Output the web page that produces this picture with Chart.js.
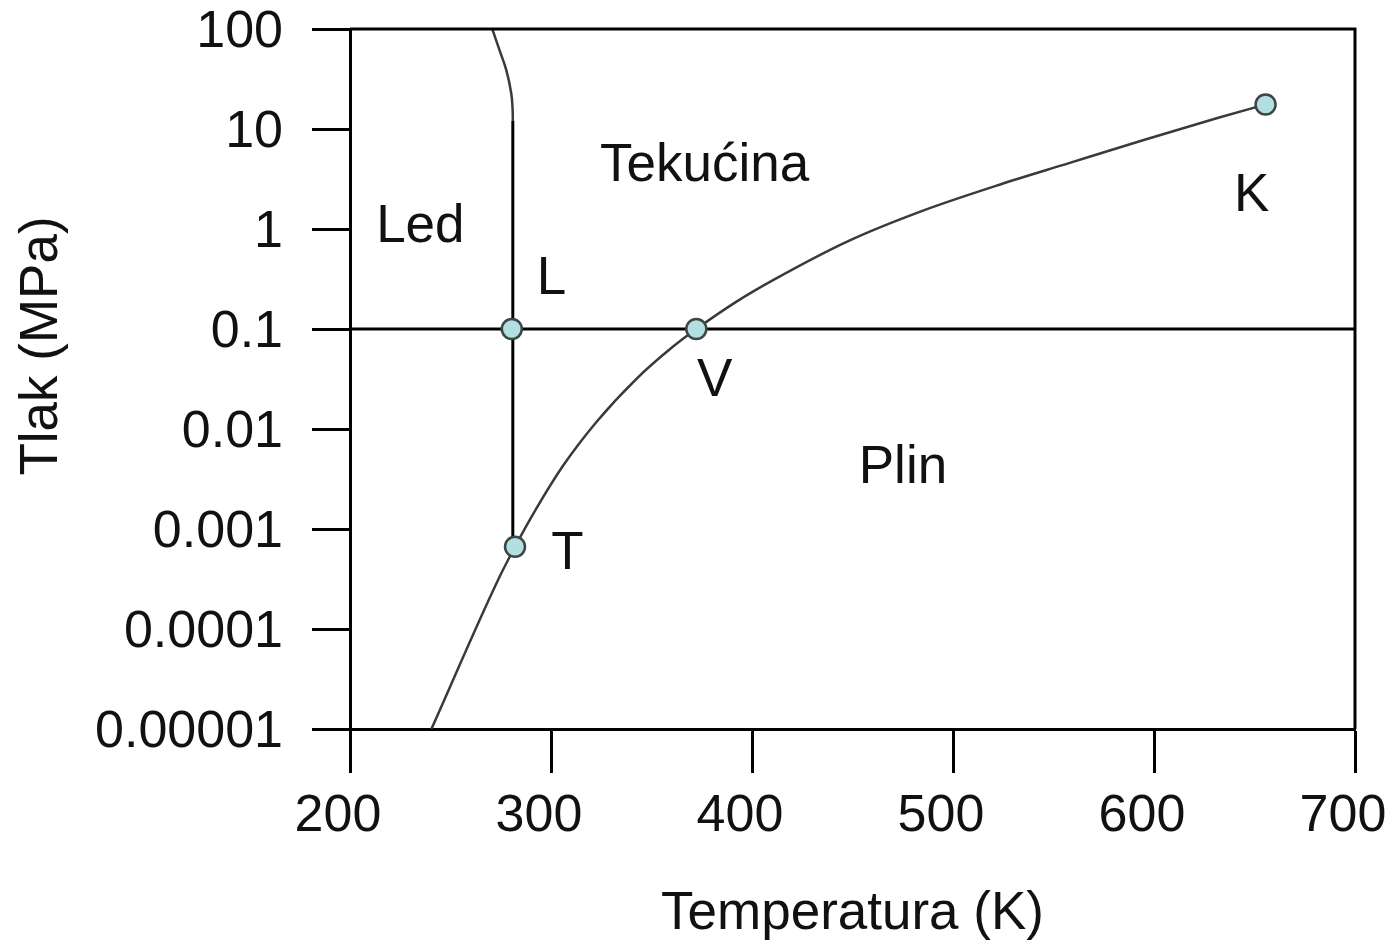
<!DOCTYPE html>
<html>
<head>
<meta charset="utf-8">
<script src="https://cdn.jsdelivr.net/npm/chart.js@4"></script>
<style>
  body { margin: 0; background: #fff; }
  #wrap { width: 1388px; height: 944px; }
</style>
</head>
<body>
<div id="wrap"><canvas id="phase"></canvas></div>
<script>
// krivulja isparavanja (T u K, p u MPa)
var vaporT = [240.5, 274.3, 282.1, 292.6, 305.8, 322.5, 342.4, 360.6, 372.3, 392.3, 410.7, 447.6, 484.4, 521.3, 558.1, 594.9, 632.0, 655.5];
var vaporP = [0.00001, 0.000329, 0.000665, 0.00159, 0.00424, 0.0117, 0.0316, 0.0664, 0.1, 0.188, 0.31, 0.753, 1.51, 2.7, 4.58, 7.76, 12.97, 17.58];

// krivulja taljenja
var meltLineT = [281, 281];
var meltLineP = [0.000665, 12];
var meltCurveT = [281, 280.9, 280.2, 277.7, 274.3, 270.8];
var meltCurveP = [12, 15.6, 22.9, 39.2, 62.1, 100];

// izobara 0.1 MPa
var isobarT = [200, 700];
var isobarP = [0.1, 0.1];

// istaknute tocke L, V, T, K
var pointNames = ['L', 'V', 'T', 'K'];
var pointT = [280.5, 372.3, 282.1, 655.5];
var pointP = [0.1, 0.1, 0.000665, 17.58];

// natpisi
var labelTexts = ['Tekućina', 'Led', 'L', 'V', 'Plin', 'T', 'K'];
var labelT = [376.4, 235.0, 300.2, 381.4, 475.1, 308.2, 648.6];
var labelP = [4.71, 1.16, 0.349, 0.0333, 0.0045, 0.00062, 2.36];

var xTicks = [200, 300, 400, 500, 600, 700];
var yTicks = [0.00001, 0.0001, 0.001, 0.01, 0.1, 1, 10, 100];
var yTickLabels = ['0.00001', '0.0001', '0.001', '0.01', '0.1', '1', '10', '100'];
var yTitle = 'Tlak (MPa)';

function pairs(xs, ys) {
  return xs.map(function(x, i){ return {x: x, y: ys[i]}; });
}

var FONT = '"Liberation Sans", Arial, sans-serif';

var framePlugin = {
  id: 'frame',
  afterDatasetsDraw: function(chart) {
    var ctx = chart.ctx, a = chart.chartArea;
    var sx = chart.scales.x, sy = chart.scales.y;
    ctx.save();
    ctx.strokeStyle = '#000';
    ctx.lineWidth = 3;
    ctx.beginPath();
    ctx.moveTo(a.left, a.top);
    ctx.lineTo(a.right, a.top);
    ctx.lineTo(a.right, a.bottom);
    ctx.stroke();

    ctx.fillStyle = '#111';
    ctx.font = '53px ' + FONT;
    ctx.textAlign = 'center';
    ctx.textBaseline = 'alphabetic';
    labelTexts.forEach(function(t, i){
      ctx.fillText(t, sx.getPixelForValue(labelT[i]), sy.getPixelForValue(labelP[i]) + 19);
    });

    // naslov osi y
    ctx.translate(42, 346);
    ctx.rotate(-Math.PI / 2);
    ctx.textBaseline = 'middle';
    ctx.fillText(yTitle, 0, 0);
    ctx.restore();
  }
};

new Chart(document.getElementById('phase'), {
  type: 'line',
  data: {
    datasets: [
      {
        data: pairs(pointT, pointP),
        showLine: false,
        pointRadius: 10,
        pointBackgroundColor: '#b3dfe3',
        pointBorderColor: '#3c4646',
        pointBorderWidth: 2.5
      },
      {
        data: pairs(vaporT, vaporP),
        borderColor: '#3a3a3a',
        borderWidth: 2.5,
        pointRadius: 0,
        cubicInterpolationMode: 'monotone'
      },
      {
        data: pairs(meltLineT, meltLineP),
        borderColor: '#000',
        borderWidth: 3,
        pointRadius: 0,
        tension: 0
      },
      {
        data: pairs(meltCurveT, meltCurveP),
        borderColor: '#3a3a3a',
        borderWidth: 2.5,
        pointRadius: 0,
        tension: 0.4
      },
      {
        data: pairs(isobarT, isobarP),
        borderColor: '#000',
        borderWidth: 3,
        pointRadius: 0,
        tension: 0
      }
    ]
  },
  options: {
    responsive: true,
    maintainAspectRatio: false,
    animation: false,
    events: [],
    layout: { padding: { top: 29, right: 33, left: 0, bottom: 0 } },
    plugins: {
      legend: { display: false },
      tooltip: { enabled: false }
    },
    scales: {
      x: {
        type: 'linear',
        min: 200,
        max: 700,
        afterBuildTicks: function(scale){
          scale.ticks = xTicks.map(function(v){ return {value: v}; });
        },
        afterFit: function(scale){
          scale.height = 215;
          scale.paddingLeft = 0; scale.paddingRight = 0;
          scale.paddingTop = 0; scale.paddingBottom = 0;
        },
        grid: {
          drawOnChartArea: false,
          tickLength: 44,
          tickWidth: 3,
          tickColor: '#000'
        },
        border: { display: true, color: '#000', width: 3 },
        ticks: {
          padding: 12,
          labelOffset: -12,
          color: '#111',
          maxRotation: 0,
          font: { family: FONT, size: 52 },
          callback: function(v){ return String(v); }
        },
        title: {
          display: true,
          text: 'Temperatura (K)',
          color: '#111',
          font: { family: FONT, size: 53, lineHeight: 1.1 },
          padding: { top: 0, bottom: 0 }
        }
      },
      y: {
        type: 'logarithmic',
        min: 0.00001,
        max: 100,
        afterBuildTicks: function(scale){
          scale.ticks = yTicks.map(function(v){ return {value: v}; });
        },
        afterFit: function(scale){
          scale.width = 350;
          scale.paddingLeft = 0; scale.paddingRight = 0;
          scale.paddingTop = 0; scale.paddingBottom = 0;
        },
        grid: {
          drawOnChartArea: false,
          tickLength: 38,
          tickWidth: 3,
          tickColor: '#000'
        },
        border: { display: true, color: '#000', width: 3 },
        ticks: {
          padding: 29,
          labelOffset: 4,
          color: '#111',
          font: { family: FONT, size: 52 },
          callback: function(v){
            var i = yTicks.indexOf(v);
            return i >= 0 ? yTickLabels[i] : '';
          }
        },
        title: { display: false }
      }
    }
  },
  plugins: [framePlugin]
});
</script>
</body>
</html>
